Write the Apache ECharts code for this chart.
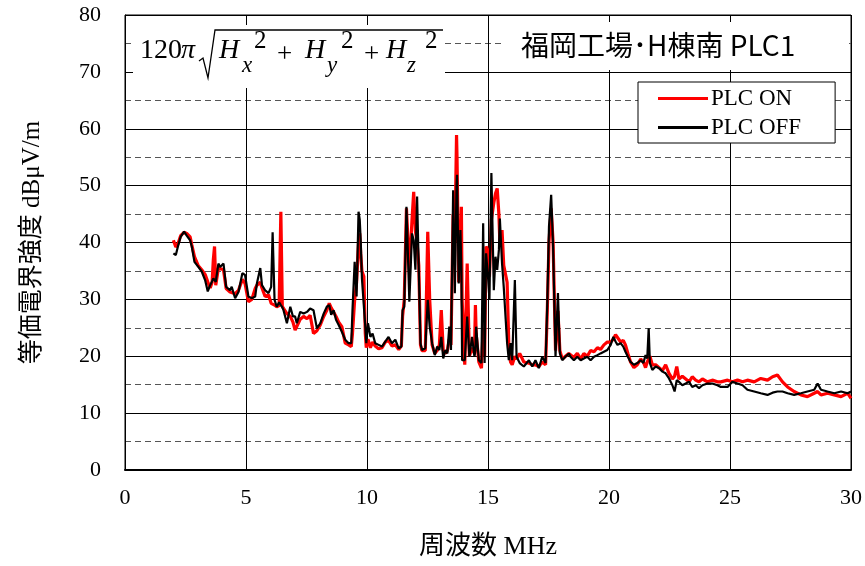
<!DOCTYPE html>
<html><head><meta charset="utf-8">
<script src="https://cdn.jsdelivr.net/npm/echarts@6/dist/echarts.min.js"></script>
<style>html,body{margin:0;padding:0;background:#fff}#c{width:865px;height:566px}</style>
</head><body><div id="c"></div>
<script>
const freq = [2.00,2.10,2.20,2.30,2.44,2.55,2.69,2.76,2.87,3.03,3.17,3.31,3.42,3.52,3.60,3.65,3.70,3.75,3.86,3.93,4.07,4.18,4.34,4.41,4.55,4.69,4.85,4.96,5.10,5.24,5.38,5.45,5.59,5.66,5.79,5.93,6.04,6.10,6.18,6.27,6.37,6.44,6.50,6.55,6.69,6.83,6.94,7.03,7.10,7.24,7.38,7.52,7.65,7.79,7.93,8.07,8.21,8.34,8.44,8.52,8.62,8.72,8.83,8.96,9.10,9.24,9.35,9.40,9.49,9.57,9.65,9.70,9.74,9.79,9.87,9.93,9.97,10.04,10.14,10.23,10.34,10.48,10.62,10.76,10.89,11.03,11.17,11.31,11.42,11.47,11.54,11.63,11.75,11.86,11.93,12.00,12.07,12.14,12.21,12.27,12.41,12.51,12.59,12.69,12.80,12.90,12.99,13.07,13.15,13.24,13.32,13.40,13.47,13.56,13.63,13.70,13.72,13.79,13.86,13.90,13.93,14.04,14.14,14.23,14.34,14.44,14.48,14.51,14.62,14.73,14.80,14.86,14.92,15.00,15.06,15.14,15.24,15.31,15.38,15.45,15.49,15.58,15.65,15.79,15.86,15.93,16.00,16.11,16.18,16.31,16.48,16.69,16.83,16.96,17.10,17.24,17.38,17.45,17.52,17.61,17.69,17.79,17.89,17.97,18.07,18.20,18.34,18.41,18.55,18.69,18.83,18.96,19.10,19.24,19.38,19.52,19.65,19.79,19.93,20.07,20.18,20.27,20.35,20.48,20.59,20.68,20.78,20.89,21.03,21.17,21.31,21.42,21.51,21.58,21.64,21.69,21.79,21.93,22.07,22.21,22.34,22.48,22.62,22.71,22.80,22.89,23.03,23.17,23.31,23.44,23.58,23.72,23.86,24.07,24.27,24.48,24.62,24.90,25.10,25.31,25.52,25.72,26.00,26.27,26.55,26.76,26.96,27.17,27.38,27.65,27.93,28.20,28.48,28.62,28.76,29.03,29.31,29.59,29.86,30.00];
const plcOff = [38.1,37.8,39.5,41.0,41.9,41.2,40.4,39.3,36.6,35.7,34.9,33.4,31.4,32.5,33.2,33.7,33.4,33.1,36.3,35.7,36.3,32.2,31.6,32.2,30.2,31.3,34.6,34.3,30.5,30.2,30.5,32.8,35.5,32.5,31.6,31.1,32.2,41.8,29.9,28.7,29.5,29.0,28.6,28.1,25.8,28.7,27.0,27.0,25.8,27.8,27.5,27.8,28.4,28.1,24.9,25.8,27.5,28.7,29.0,27.3,28.1,26.4,25.5,24.3,22.9,22.3,22.3,28.1,36.6,30.5,45.4,44.0,40.4,33.7,33.4,25.2,22.3,25.8,23.4,24.0,22.3,22.0,21.7,22.6,23.4,22.3,22.9,21.4,21.7,28.1,28.7,46.3,29.6,41.6,40.4,35.2,48.1,35.2,22.3,21.1,21.4,29.9,25.2,22.3,20.2,21.7,21.1,23.4,19.6,21.1,20.5,25.2,21.1,49.2,31.1,50.0,51.9,32.8,42.2,35.0,19.3,19.3,27.0,19.9,23.4,19.9,21.0,25.2,19.3,18.8,43.4,18.8,38.1,34.0,30.0,52.2,31.6,37.5,35.2,38.7,44.2,36.3,32.2,22.3,19.3,22.3,19.3,33.4,19.9,18.8,18.2,19.3,18.2,19.3,17.9,19.9,18.8,29.3,42.8,48.4,39.3,19.9,31.1,20.5,19.3,19.9,20.5,19.9,19.3,19.9,19.3,19.6,19.9,19.3,19.9,20.2,20.5,20.8,21.1,22.0,23.4,22.6,22.0,22.3,21.7,20.8,19.9,19.0,18.5,18.8,19.3,18.8,20.2,19.6,24.9,18.8,17.6,18.2,17.9,17.3,17.0,16.1,14.9,13.8,15.8,15.5,14.9,15.2,15.5,14.6,14.9,14.4,14.9,15.2,15.2,14.9,14.6,14.6,15.5,15.2,14.9,14.1,13.8,13.5,13.2,13.6,13.8,13.8,13.5,13.2,13.5,13.8,14.1,15.2,14.1,13.8,13.5,13.8,13.5,13.8];
const plcOn = [40.4,39.2,39.9,41.2,41.8,41.6,41.0,39.6,37.5,35.9,35.2,34.4,33.1,32.0,33.0,37.0,39.3,32.5,35.5,35.2,35.2,31.9,31.3,31.6,31.0,31.6,33.5,32.8,29.6,30.0,31.9,32.5,33.0,32.0,30.5,30.8,29.3,29.5,29.0,28.7,28.9,45.4,28.8,28.4,27.5,27.0,26.0,24.6,24.8,26.5,27.0,26.6,27.2,24.0,24.5,25.5,27.0,28.1,29.3,28.5,27.8,27.0,26.0,25.2,22.3,22.0,21.7,24.0,29.9,33.0,40.0,41.6,38.0,35.0,34.0,24.0,21.5,23.0,21.5,22.5,21.8,21.3,21.5,22.5,22.8,21.8,22.0,21.2,21.8,27.0,30.0,46.0,35.0,44.0,48.9,42.0,40.0,36.0,22.0,21.0,21.0,41.9,30.0,22.0,20.5,21.0,22.0,28.1,21.0,20.5,21.0,23.0,22.0,45.0,40.0,58.9,55.0,33.0,38.0,46.3,30.0,18.5,36.3,20.0,21.5,20.5,29.0,24.0,19.0,17.9,25.0,20.0,39.3,38.5,34.0,44.0,47.0,48.6,49.5,45.0,40.0,42.2,36.0,33.0,22.0,19.0,18.5,20.0,19.5,20.5,19.0,18.8,18.5,18.5,18.2,19.0,18.5,28.0,40.0,46.0,40.0,21.0,28.0,21.0,19.5,20.0,20.5,20.2,19.8,20.5,19.5,20.5,20.0,21.0,20.8,21.5,21.2,22.0,22.5,22.5,23.0,23.8,24.0,22.5,22.8,22.0,20.5,19.0,18.0,18.5,19.5,19.0,18.0,19.0,19.5,20.0,18.5,18.5,18.0,17.5,18.5,17.0,16.0,16.5,18.2,16.0,16.5,16.0,15.5,16.4,15.8,15.5,16.0,15.5,15.8,15.5,15.5,15.8,15.5,15.8,15.5,15.8,15.5,16.1,15.8,16.4,16.7,15.5,14.6,13.8,13.2,12.9,13.5,13.8,13.2,13.5,13.2,12.9,13.5,12.6];
const seriesNames = ['PLC ON','PLC OFF'];
const xTicks = {min:0, max:30, step:5};
const yTicks = {min:0, max:80, step:10};

const serif = "'Liberation Serif','Times New Roman','Noto Sans CJK JP',serif";
const cjk = "'Noto Sans CJK JP','Liberation Sans',sans-serif";
const chart = echarts.init(document.getElementById('c'));
const T = (x,y,text,size,style)=>({type:'text',z:101,left:x,top:y,style:{text:text,font:(style||'')+' '+size+'px '+serif,fill:'#000'}});
chart.setOption({
  animation:false,
  backgroundColor:'#fff',
  grid:{left:125,right:14,top:15,bottom:96,show:true,borderColor:'#000',borderWidth:1,backgroundColor:'transparent'},
  legend:{
    data:seriesNames, orient:'vertical', left:638, top:82,
    backgroundColor:'#fff', borderColor:'#000', borderWidth:1,
    padding:[5,34,4,20], itemGap:6, itemWidth:50, itemHeight:3, icon:'rect',
    textStyle:{fontFamily:serif,fontSize:23,color:'#000',padding:[0,0,0,-2]},
    z:50
  },
  xAxis:{type:'value',min:xTicks.min,max:xTicks.max,interval:xTicks.step,
    name:'周波数 MHz',nameLocation:'middle',nameGap:64,
    nameTextStyle:{fontFamily:serif,fontSize:26,color:'#000'},
    axisLine:{onZero:false,lineStyle:{color:'#000',width:2}},
    axisTick:{show:false},
    axisLabel:{fontFamily:serif,fontSize:22,color:'#000',margin:17},
    splitLine:{show:true,lineStyle:{color:'#000',width:1}}
  },
  yAxis:{type:'value',min:yTicks.min,max:yTicks.max,interval:yTicks.step,
    name:'等価電界強度 dBμV/m',nameLocation:'middle',nameGap:80,
    nameTextStyle:{fontFamily:serif,fontSize:25,color:'#000'},
    axisLine:{lineStyle:{color:'#000',width:1}},
    axisTick:{show:false},
    axisLabel:{fontFamily:serif,fontSize:22,color:'#000',margin:24},
    splitLine:{show:true,lineStyle:{color:'#000',width:1}},
    minorTick:{show:false,splitNumber:2},
    minorSplitLine:{show:true,lineStyle:{color:'#555',width:1.2,type:[6,4]}}
  },
  series:[
    {name:seriesNames[0],type:'line',symbol:'none',data:freq.map((f,i)=>[f,plcOn[i]]),
     lineStyle:{color:'#ff0000',width:3.2},itemStyle:{color:'#ff0000'},z:3},
    {name:seriesNames[1],type:'line',symbol:'none',data:freq.map((f,i)=>[f,plcOff[i]]),
     lineStyle:{color:'#000',width:2.2},itemStyle:{color:'#000'},z:4}
  ],
  graphic:[
    {type:'rect',z:100,shape:{x:133,y:25,width:312,height:63},style:{fill:'#fff'}},
    {type:'rect',z:100,shape:{x:505,y:22,width:344,height:48},style:{fill:'#fff'}},
    {type:'text',z:101,left:521,top:31,style:{text:'福岡工場･H棟南 PLC1',font:'28px '+cjk,fill:'#000'}},
    T(140,37,'120',28,''),
    T(181,37,'π',28,'italic'),
    {type:'polyline',z:101,shape:{points:[[199,61],[203,58],[208,78],[215,30],[443,30]]},style:{stroke:'#000',lineWidth:1.3,fill:null}},
    T(219,37,'H',28,'italic'),
    T(242,54,'x',23,'italic'),
    T(254,29,'2',25,''),
    T(277,41,'+',27,''),
    T(305,37,'H',28,'italic'),
    T(327,54,'y',23,'italic'),
    T(341,29,'2',25,''),
    T(364,41,'+',27,''),
    T(386,37,'H',28,'italic'),
    T(407,54,'z',23,'italic'),
    T(425,29,'2',25,'')
  ]
});
</script></body></html>
